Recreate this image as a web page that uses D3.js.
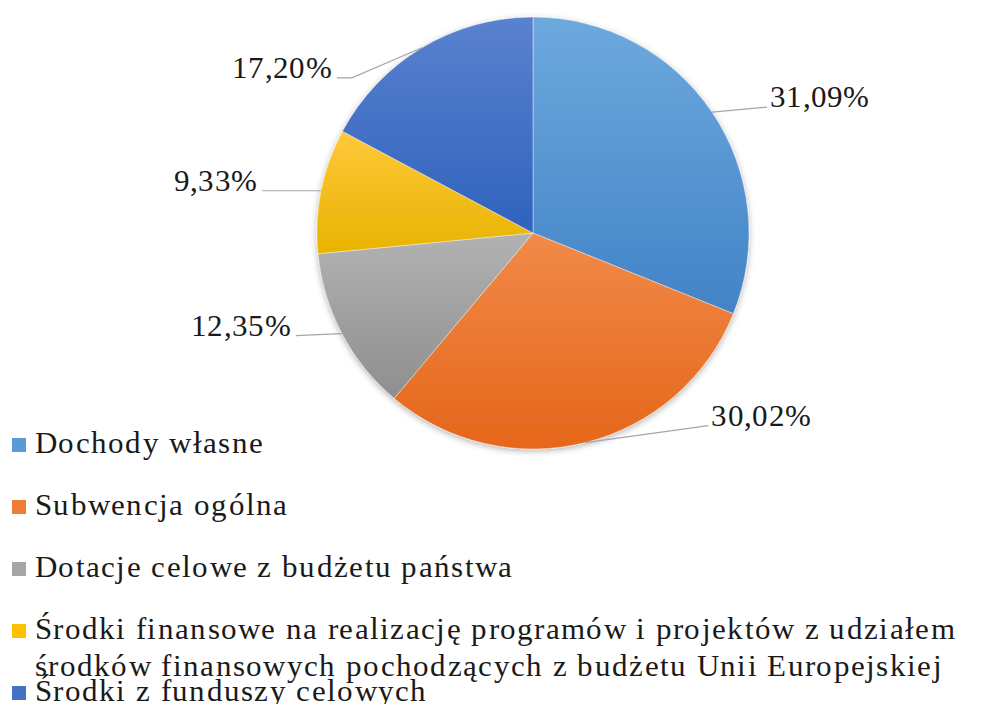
<!DOCTYPE html>
<html>
<head>
<meta charset="utf-8">
<script src="https://cdn.jsdelivr.net/npm/d3@7"></script>
<style>
  @font-face {
    font-family: "ChartSerif";
    src: local("Tinos"), local("Tinos Regular"), local("Tinos-Regular"),
         local("Liberation Serif"), local("LiberationSerif"), local("Times New Roman");
  }
  body { margin: 0; background: #fff; }
  svg { display: block; }
</style>
</head>
<body>
<div id="chart"></div>
<script>
// data
const categories = [
    "Dochody własne",
    "Subwencja ogólna",
    "Dotacje celowe z budżetu państwa",
    "Środki finansowe na realizację programów i projektów z udziałem środków finansowych pochodzących z budżetu Unii Europejskiej",
    "Środki z funduszy celowych"
];
const values = [31.09, 30.02, 12.35, 9.33, 17.20];

// styles
const fontFamily = '"ChartSerif", "Tinos", "Times New Roman", serif';
const colors = ["#5B9BD5", "#ED7D31", "#A5A5A5", "#FFC000", "#4472C4"];
const lightColors = ["#6DA9DD", "#F18A48", "#B2B2B2", "#FFC83A", "#5A82CF"];
const darkColors = ["#4283C7", "#E5661B", "#8E8E8E", "#E8B300", "#2F62BD"];
// leader line end, relative to the point on the rim
const labelOffsets = [[55, -5], [123, -17], [-46, 2], [-59, 0], [-85, 30]];

const width = 1006;
const height = 704;
const cx = 533, cy = 233, radius = 216;
const wrapWidth = 965;

function draw() {
    const data = categories.map((c, i) => ({ name: c, value: values[i], i: i }));
    const fmt = v => d3.format(".2f")(v).replace(".", ",") + "%";

    const svg = d3.select("#chart").append("svg")
        .attr("width", width)
        .attr("height", height)
        .style("font-family", fontFamily);

    const defs = svg.append("defs");
    data.forEach((d, i) => {
        const g = defs.append("linearGradient")
            .attr("id", "grad" + i)
            .attr("x1", 0).attr("y1", 0).attr("x2", 0).attr("y2", 1);
        g.append("stop").attr("offset", "0%").attr("stop-color", lightColors[i]);
        g.append("stop").attr("offset", "100%").attr("stop-color", darkColors[i]);
    });
    const shadow = defs.append("filter").attr("id", "shadow")
        .attr("x", "-10%").attr("y", "-10%").attr("width", "120%").attr("height", "120%");
    shadow.append("feDropShadow")
        .attr("dx", 0).attr("dy", 2).attr("stdDeviation", 3)
        .attr("flood-color", "#000").attr("flood-opacity", 0.3);

    const pie = d3.pie().sort(null).value(d => d.value);
    const arcs = pie(data);
    const arc = d3.arc().innerRadius(0).outerRadius(radius);

    svg.append("g")
        .attr("transform", `translate(${cx},${cy})`)
        .attr("filter", "url(#shadow)")
        .selectAll("path")
        .data(arcs)
        .join("path")
        .attr("d", arc)
        .attr("fill", d => `url(#grad${d.index})`)
        .attr("stroke", "#ffffff")
        .attr("stroke-opacity", 0.5)
        .attr("stroke-width", 0.8);

    // labels with leader lines
    const labelG = svg.append("g").attr("transform", `translate(${cx},${cy})`);
    arcs.forEach((a, i) => {
        const mid = (a.startAngle + a.endAngle) / 2;
        const px = radius * Math.sin(mid);
        const py = -radius * Math.cos(mid);
        const ex = px + labelOffsets[i][0];
        const ey = py + labelOffsets[i][1];
        const right = labelOffsets[i][0] > 0;
        const pts = [[px, py]];
        if (Math.abs(labelOffsets[i][1]) > 20 && !right) pts.push([ex + 15, ey]);
        pts.push([ex, ey]);
        labelG.append("path")
            .attr("d", d3.line()(pts))
            .attr("fill", "none")
            .attr("stroke", "#a6a6a6")
            .attr("stroke-width", 1.2);
        labelG.append("text")
            .attr("x", right ? ex + 3 : ex - 5)
            .attr("y", ey)
            .attr("text-anchor", right ? "start" : "end")
            .style("font-family", fontFamily)
            .style("font-size", "31px")
            .style("letter-spacing", "0.3px")
            .style("fill", "#1a1a1a")
            .text(fmt(a.data.value));
    });

    // legend
    const legend = svg.append("g").attr("transform", "translate(12,453)");
    const step = 62;
    data.forEach((d, i) => {
        const item = legend.append("g").attr("transform", `translate(0,${i * step})`);
        item.append("rect")
            .attr("x", 0).attr("y", -15)
            .attr("width", 14).attr("height", 14)
            .attr("fill", colors[i]);
        const t = item.append("text")
            .attr("x", 23).attr("y", 0)
            .style("font-family", fontFamily)
            .style("font-size", "31px")
            .style("letter-spacing", "1.3px")
            .style("fill", "#1a1a1a");
        // wrap on measured width
        const words = d.name.split(" ");
        let line = [];
        let tspan = t.append("tspan").attr("x", 23).attr("dy", 0);
        words.forEach(w => {
            line.push(w);
            tspan.text(line.join(" "));
            if (tspan.node().getComputedTextLength() > wrapWidth && line.length > 1) {
                line.pop();
                tspan.text(line.join(" "));
                line = [w];
                tspan = t.append("tspan").attr("x", 23).attr("dy", 37).text(w);
            }
        });
    });
}

document.fonts.load('31px "ChartSerif"').then(draw, draw);
</script>
</body>
</html>
